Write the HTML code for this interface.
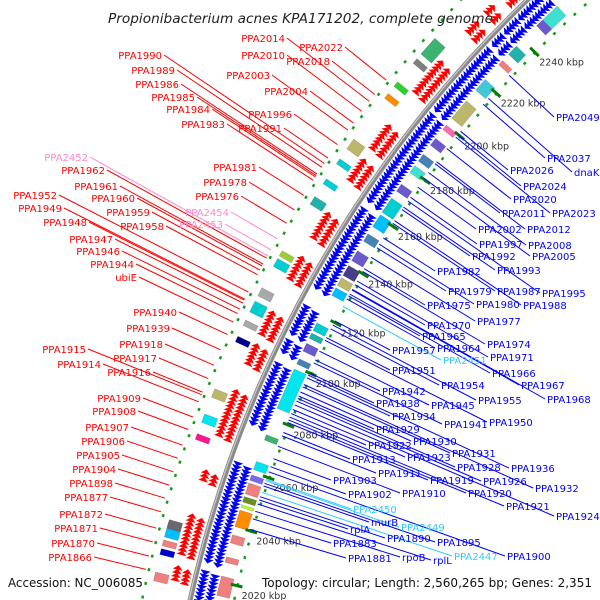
<!DOCTYPE html>
<html><head><meta charset="utf-8"><style>
html,body{margin:0;padding:0;background:#fff;width:600px;height:600px;overflow:hidden}
svg{display:block;overflow:hidden}
text{font-family:"DejaVu Sans","Liberation Sans",sans-serif}
</style></head>
<body>
<svg id="map" width="600" height="600" viewBox="0 0 600 600" xmlns="http://www.w3.org/2000/svg">
<defs><clipPath id="frame"><rect width="600" height="600"/></clipPath></defs>
<rect width="600" height="600" fill="#fff"/>
<g clip-path="url(#frame)">
<g id="rings"></g><g id="genes"></g><g id="backbone"></g><g id="ticks"></g><g id="lines"></g><g id="labels"></g>
</g>
<text x="108" y="23" font-size="13" font-style="italic" fill="#222" textLength="385" lengthAdjust="spacingAndGlyphs">Propionibacterium acnes KPA171202, complete genome</text>
<text x="8" y="587" font-size="12" fill="#111" textLength="135" lengthAdjust="spacingAndGlyphs">Accession: NC_006085</text>
<text x="262" y="587" font-size="12" fill="#111" textLength="330" lengthAdjust="spacingAndGlyphs">Topology: circular; Length: 2,560,265 bp; Genes: 2,351</text>
</svg>
<script>
const tickKbp=[2020,2040,2060,2080,2100,2120,2140,2160,2180,2200,2220,2240];
const blueClusters=[[2005,2023],[2026,2062],[2076,2099],[2103,2107],[2110,2114],[2115,2121],[2128,2160],[2163,2200],[2202,2230],[2232,2236],[2238,2244],[2245,2258]];
const redClusters=[[2016,2020],[2025,2038],[2051,2054],[2067,2083],[2093,2100],[2104,2113],[2125,2134],[2141,2151],[2164,2172],[2177,2187],[2201,2215],[2228,2232],[2237,2240],[2245,2255]];
const rightBoxes=[[2250,2257,'#40e0d0'],[2247,2250,'#6a5acd'],[2233,2237,'#20b2aa'],[2228,2230,'#f08080'],[2216,2221,'#40c8d8'],[2203,2211,'#bdb76b'],[2198,2200,'#ff69b4'],[2191,2194,'#6a5acd'],[2184,2187,'#4682b4'],[2179,2182,'#40e0d0'],[2171,2174,'#6a5acd'],[2162,2168,'#00ced1'],[2156,2161,'#00bfff'],[2150,2153,'#4682b4'],[2142,2146,'#6a5acd'],[2136,2140,'#483d8b'],[2132,2135,'#bdb76b'],[2128,2131,'#00bfff'],[2114,2117,'#00ced1'],[2111,2113,'#20b2aa'],[2106,2109,'#6a5acd'],[2101,2103,'#4682b4'],[2084,2099,'#00e5ee'],[2072,2074,'#3cb371'],[2061,2064,'#00e5ee'],[2057,2059,'#7b68ee'],[2052,2056,'#f08080'],[2049,2051,'#6b8e23'],[2047,2048,'#adff2f'],[2040,2046,'#ff8c00'],[2034,2037,'#f08080'],[2027,2029,'#f08080'],[2015,2022,'#f08080']];
const leftBoxes=[[2248,2254,'#20b2aa'],[2213,2220,'#3cb371'],[2209,2211,'#808080'],[2199,2201,'#32cd32'],[2194,2196,'#ff8c00'],[2173,2177,'#bdb76b'],[2167,2169,'#00ced1'],[2159,2161,'#00ced1'],[2151,2154,'#20b2aa'],[2131,2133,'#9acd32'],[2127,2130,'#00ced1'],[2116,2119,'#a9a9a9'],[2110,2114,'#00ced1'],[2105,2107,'#a9a9a9'],[2099,2101,'#00008b'],[2079,2082,'#bdb76b'],[2070,2073,'#00e5ee'],[2064,2066,'#ff1493'],[2033,2036,'#696969'],[2030,2033,'#00bfff'],[2027,2029,'#f08080'],[2024,2026,'#0000cd'],[2015,2018,'#f08080']];
const leftLabels=[["PPA2014",285,38,"#f00"],["PPA2022",343,47,"#f00"],["PPA1990",162,55,"#f00"],["PPA2010",285,55,"#f00"],["PPA2018",330,61,"#f00"],["PPA1989",175,70,"#f00"],["PPA2003",270,75,"#f00"],["PPA1986",179,84,"#f00"],["PPA2004",308,91,"#f00"],["PPA1985",195,97,"#f00"],["PPA1984",210,109,"#f00"],["PPA1996",292,114,"#f00"],["PPA1983",225,124,"#f00"],["PPA1991",282,128,"#f00"],["PPA2452",88,157,"#ff88cc"],["PPA1981",257,167,"#f00"],["PPA1962",105,170,"#f00"],["PPA1978",247,182,"#f00"],["PPA1961",118,186,"#f00"],["PPA1952",57,195,"#f00"],["PPA1976",239,196,"#f00"],["PPA1960",135,198,"#f00"],["PPA1949",62,208,"#f00"],["PPA1959",150,212,"#f00"],["PPA2454",229,212,"#ff88cc"],["PPA1948",87,222,"#f00"],["PPA2453",223,224,"#ff88cc"],["PPA1958",164,226,"#f00"],["PPA1947",113,239,"#f00"],["PPA1946",120,251,"#f00"],["PPA1944",134,264,"#f00"],["ubiE",137,277,"#f00"],["PPA1940",177,312,"#f00"],["PPA1939",170,328,"#f00"],["PPA1918",163,344,"#f00"],["PPA1915",86,349,"#f00"],["PPA1917",157,358,"#f00"],["PPA1914",101,364,"#f00"],["PPA1916",151,372,"#f00"],["PPA1909",141,398,"#f00"],["PPA1908",136,411,"#f00"],["PPA1907",129,427,"#f00"],["PPA1906",125,441,"#f00"],["PPA1905",120,455,"#f00"],["PPA1904",116,469,"#f00"],["PPA1898",113,483,"#f00"],["PPA1877",108,497,"#f00"],["PPA1872",103,514,"#f00"],["PPA1871",98,528,"#f00"],["PPA1870",95,543,"#f00"],["PPA1866",92,557,"#f00"]];
const rightLabels=[["PPA2049",556,117,"#00f"],["PPA2037",547,158,"#00f"],["dnaK",574,172,"#00f"],["PPA2026",510,170,"#00f"],["PPA2024",523,186,"#00f"],["PPA2020",513,199,"#00f"],["PPA2011",502,213,"#00f"],["PPA2023",552,213,"#00f"],["PPA2002",478,229,"#00f"],["PPA2012",527,229,"#00f"],["PPA1997",479,244,"#00f"],["PPA2008",528,245,"#00f"],["PPA1992",472,256,"#00f"],["PPA2005",532,256,"#00f"],["PPA1982",437,271,"#00f"],["PPA1993",497,270,"#00f"],["PPA1979",448,291,"#00f"],["PPA1987",497,291,"#00f"],["PPA1995",542,293,"#00f"],["PPA1975",427,305,"#00f"],["PPA1980",476,304,"#00f"],["PPA1988",523,305,"#00f"],["PPA1970",427,325,"#00f"],["PPA1977",477,321,"#00f"],["PPA1965",422,336,"#00f"],["PPA1974",487,344,"#00f"],["PPA1964",437,348,"#00f"],["PPA1957",392,350,"#00f"],["PPA2451",443,360,"#33ccff"],["PPA1971",490,357,"#00f"],["PPA1966",492,373,"#00f"],["PPA1951",392,370,"#00f"],["PPA1954",441,385,"#00f"],["PPA1967",521,385,"#00f"],["PPA1968",547,399,"#00f"],["PPA1942",382,391,"#00f"],["PPA1955",478,400,"#00f"],["PPA1938",376,403,"#00f"],["PPA1945",431,405,"#00f"],["PPA1934",392,416,"#00f"],["PPA1941",444,424,"#00f"],["PPA1950",489,422,"#00f"],["PPA1929",376,429,"#00f"],["PPA1930",413,441,"#00f"],["PPA1922",368,445,"#00f"],["PPA1931",452,453,"#00f"],["PPA1923",407,457,"#00f"],["PPA1913",352,459,"#00f"],["PPA1928",457,467,"#00f"],["PPA1936",511,468,"#00f"],["PPA1911",378,473,"#00f"],["PPA1919",430,480,"#00f"],["PPA1926",483,481,"#00f"],["PPA1903",333,480,"#00f"],["PPA1932",535,488,"#00f"],["PPA1910",402,493,"#00f"],["PPA1920",468,493,"#00f"],["PPA1902",348,494,"#00f"],["PPA1921",506,506,"#00f"],["PPA1924",556,516,"#00f"],["PPA2450",353,509,"#33ccff"],["murB",371,522,"#00f"],["PPA2449",401,527,"#33ccff"],["rplA",350,529,"#00f"],["PPA1890",387,538,"#00f"],["PPA1895",437,542,"#00f"],["PPA1883",333,543,"#00f"],["PPA1900",507,556,"#00f"],["PPA2447",454,556,"#33ccff"],["PPA1881",348,558,"#00f"],["rpoB",402,557,"#00f"],["rplL",433,560,"#00f"]];

const NS="http://www.w3.org/2000/svg";
const C=[1350,857], RB=1188;
function ang(k){return (193.7+(k-2020)*0.1406)*Math.PI/180;}
function pt(r,k){const a=ang(k);return [C[0]+r*Math.cos(a),C[1]+r*Math.sin(a)];}
function mk(tag,attrs,parent){const e=document.createElementNS(NS,tag);for(const k in attrs)e.setAttribute(k,attrs[k]);parent.appendChild(e);return e;}
const gR=document.getElementById('rings'),gG=document.getElementById('genes'),gB=document.getElementById('backbone'),gT=document.getElementById('ticks'),gL=document.getElementById('lines'),gX=document.getElementById('labels');

function arcPath(r,k1,k2){const a=pt(r,k1),b=pt(r,k2);return 'M'+a[0].toFixed(1)+' '+a[1].toFixed(1)+' A'+r+' '+r+' 0 0 1 '+b[0].toFixed(1)+' '+b[1].toFixed(1);}
[1235,1145].forEach(function(r,i){
  const c=mk('path',{d:arcPath(r,1990,2270),fill:'none',stroke:'#1a9a1a','stroke-width':2.5,'stroke-dasharray':'3 11'},gR);
  
  
});
let bb=mk('path',{d:arcPath(RB,1990,2270),fill:'none',stroke:'#8a8a8a','stroke-width':5},gB);


mk('path',{d:arcPath(RB+1,1990,2270),fill:'none',stroke:'#c8c8c8','stroke-width':1.2},gB);

function band(k1,k2,r1,r2,color,name){
  const pts=[];const n=6;
  for(let i=0;i<=n;i++)pts.push(pt(r1,k1+(k2-k1)*i/n));
  for(let i=n;i>=0;i--)pts.push(pt(r2,k1+(k2-k1)*i/n));
  const p=mk('polygon',{points:pts.map(q=>q[0].toFixed(1)+','+q[1].toFixed(1)).join(' '),fill:color,stroke:'rgba(0,0,0,0.25)','stroke-width':0.5},gG);
  
  
}
function arrows(cl,r1,r2,color,dir,name){
  cl.forEach(function(c){
    for(let k=c[0];k<c[1];k+=1.3){
      const lanes=[[r1,(r1+r2)/2],[(r1+r2)/2,r2]];
      lanes.forEach(function(l,li){
        const kb=k+li*0.6, kt=kb+dir*1.6;
        const a=pt(l[0],kb),b=pt(l[1],kb),t=pt((l[0]+l[1])/2,kt);
        const p=mk('polygon',{points:[a,b,t].map(q=>q[0].toFixed(1)+','+q[1].toFixed(1)).join(' '),fill:color},gG);
        
        
      });
    }
  });
}
arrows(blueClusters,1164,1185,'#0000ee',-1,'forward-gene');
arrows(redClusters,1192,1212,'#ff0000',1,'reverse-gene');
rightBoxes.forEach(b=>band(b[0],b[1],1150,1163,b[2],'forward-feature'));
leftBoxes.forEach(b=>band(b[0],b[1],1214,1228,b[2],'reverse-feature'));

tickKbp.forEach(function(k){
  const a=pt(1140,k),b=pt(1152,k);
  const l=mk('line',{x1:a[0],y1:a[1],x2:b[0],y2:b[1],stroke:'#0a7a0a','stroke-width':3},gT);
  
  
  const p=pt(1145,k);
  const t=mk('text',{x:(p[0]+4).toFixed(1),y:(p[1]+13).toFixed(1),'font-size':9.5,fill:'#333'},gT);
  t.textContent=k+' kbp';
  
  
});

function proj(x,y,r){const dx=x-C[0],dy=y-C[1],d=Math.hypot(dx,dy);return [C[0]+dx*r/d,C[1]+dy*r/d];}
leftLabels.forEach(function(L){
  const p=proj(L[1]+2,L[2],1238);
  const ln=mk('line',{x1:L[1]+2,y1:L[2],x2:p[0].toFixed(1),y2:p[1].toFixed(1),stroke:L[3],'stroke-width':1},gL);
  
  
  const t=mk('text',{x:L[1],y:L[2]+4,'font-size':10,fill:L[3],'text-anchor':'end'},gX);
  t.textContent=L[0];
  
  
});
rightLabels.forEach(function(L){
  const p=proj(L[1]-2,L[2],1148);
  const ln=mk('line',{x1:L[1]-2,y1:L[2],x2:p[0].toFixed(1),y2:p[1].toFixed(1),stroke:L[3],'stroke-width':1},gL);
  
  
  const t=mk('text',{x:L[1],y:L[2]+4,'font-size':10,fill:L[3]},gX);
  t.textContent=L[0];
  
  
});
</script>
</body></html>
